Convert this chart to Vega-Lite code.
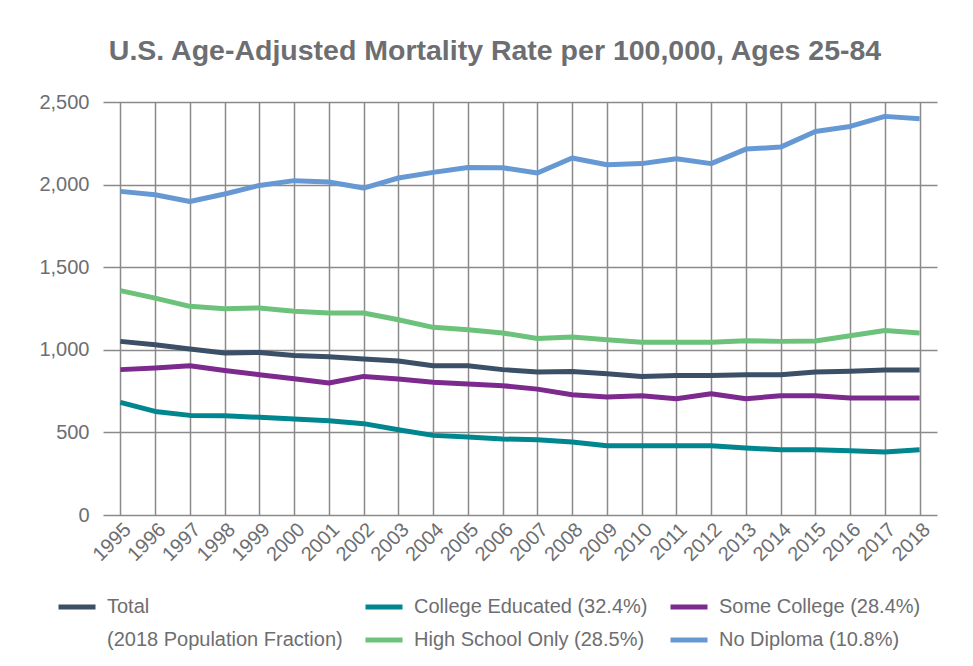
{
  "$schema": "https://vega.github.io/schema/vega-lite/v6.json",
  "autosize": "none",
  "width": 834,
  "height": 413,
  "padding": {"left": 103, "top": 102, "right": 36, "bottom": 151},
  "background": "white",
  "title": {
    "text": "U.S. Age-Adjusted Mortality Rate per 100,000, Ages 25-84",
    "anchor": "middle",
    "frame": "group",
    "dx": -25,
    "dy": 13,
    "offset": 40,
    "font": "Liberation Sans",
    "fontSize": 28.5,
    "fontWeight": "bold",
    "color": "#6d6e71"
  },
  "config": {
    "view": {"stroke": null},
    "axis": {
      "labelFont": "Liberation Sans",
      "labelFontSize": 20,
      "labelColor": "#6d6e71",
      "gridColor": "#8a8a8a",
      "gridWidth": 1.5,
      "gridOpacity": 1,
      "domain": false,
      "ticks": false
    },
    "legend": {
      "labelFont": "Liberation Sans",
      "labelFontSize": 20,
      "labelColor": "#6d6e71",
      "padding": 0
    }
  },
  "data": {
    "values": [
      {"year": 1995, "series": "Total", "rate": 1051},
      {"year": 1996, "series": "Total", "rate": 1031},
      {"year": 1997, "series": "Total", "rate": 1005},
      {"year": 1998, "series": "Total", "rate": 981},
      {"year": 1999, "series": "Total", "rate": 984},
      {"year": 2000, "series": "Total", "rate": 966},
      {"year": 2001, "series": "Total", "rate": 958},
      {"year": 2002, "series": "Total", "rate": 944},
      {"year": 2003, "series": "Total", "rate": 932},
      {"year": 2004, "series": "Total", "rate": 904},
      {"year": 2005, "series": "Total", "rate": 904},
      {"year": 2006, "series": "Total", "rate": 880},
      {"year": 2007, "series": "Total", "rate": 866},
      {"year": 2008, "series": "Total", "rate": 868},
      {"year": 2009, "series": "Total", "rate": 855},
      {"year": 2010, "series": "Total", "rate": 839},
      {"year": 2011, "series": "Total", "rate": 845},
      {"year": 2012, "series": "Total", "rate": 845},
      {"year": 2013, "series": "Total", "rate": 849},
      {"year": 2014, "series": "Total", "rate": 849},
      {"year": 2015, "series": "Total", "rate": 866},
      {"year": 2016, "series": "Total", "rate": 870},
      {"year": 2017, "series": "Total", "rate": 877},
      {"year": 2018, "series": "Total", "rate": 877},
      {"year": 1995, "series": "College Educated (32.4%)", "rate": 682},
      {"year": 1996, "series": "College Educated (32.4%)", "rate": 627},
      {"year": 1997, "series": "College Educated (32.4%)", "rate": 603},
      {"year": 1998, "series": "College Educated (32.4%)", "rate": 601},
      {"year": 1999, "series": "College Educated (32.4%)", "rate": 591},
      {"year": 2000, "series": "College Educated (32.4%)", "rate": 581},
      {"year": 2001, "series": "College Educated (32.4%)", "rate": 571},
      {"year": 2002, "series": "College Educated (32.4%)", "rate": 553},
      {"year": 2003, "series": "College Educated (32.4%)", "rate": 516},
      {"year": 2004, "series": "College Educated (32.4%)", "rate": 482},
      {"year": 2005, "series": "College Educated (32.4%)", "rate": 472},
      {"year": 2006, "series": "College Educated (32.4%)", "rate": 460},
      {"year": 2007, "series": "College Educated (32.4%)", "rate": 456},
      {"year": 2008, "series": "College Educated (32.4%)", "rate": 442},
      {"year": 2009, "series": "College Educated (32.4%)", "rate": 419},
      {"year": 2010, "series": "College Educated (32.4%)", "rate": 419},
      {"year": 2011, "series": "College Educated (32.4%)", "rate": 419},
      {"year": 2012, "series": "College Educated (32.4%)", "rate": 419},
      {"year": 2013, "series": "College Educated (32.4%)", "rate": 405},
      {"year": 2014, "series": "College Educated (32.4%)", "rate": 395},
      {"year": 2015, "series": "College Educated (32.4%)", "rate": 395},
      {"year": 2016, "series": "College Educated (32.4%)", "rate": 389},
      {"year": 2017, "series": "College Educated (32.4%)", "rate": 381},
      {"year": 2018, "series": "College Educated (32.4%)", "rate": 395},
      {"year": 1995, "series": "Some College (28.4%)", "rate": 880},
      {"year": 1996, "series": "Some College (28.4%)", "rate": 890},
      {"year": 1997, "series": "Some College (28.4%)", "rate": 904},
      {"year": 1998, "series": "Some College (28.4%)", "rate": 875},
      {"year": 1999, "series": "Some College (28.4%)", "rate": 849},
      {"year": 2000, "series": "Some College (28.4%)", "rate": 825},
      {"year": 2001, "series": "Some College (28.4%)", "rate": 799},
      {"year": 2002, "series": "Some College (28.4%)", "rate": 839},
      {"year": 2003, "series": "Some College (28.4%)", "rate": 823},
      {"year": 2004, "series": "Some College (28.4%)", "rate": 803},
      {"year": 2005, "series": "Some College (28.4%)", "rate": 793},
      {"year": 2006, "series": "Some College (28.4%)", "rate": 783},
      {"year": 2007, "series": "Some College (28.4%)", "rate": 762},
      {"year": 2008, "series": "Some College (28.4%)", "rate": 728},
      {"year": 2009, "series": "Some College (28.4%)", "rate": 714},
      {"year": 2010, "series": "Some College (28.4%)", "rate": 722},
      {"year": 2011, "series": "Some College (28.4%)", "rate": 704},
      {"year": 2012, "series": "Some College (28.4%)", "rate": 734},
      {"year": 2013, "series": "Some College (28.4%)", "rate": 704},
      {"year": 2014, "series": "Some College (28.4%)", "rate": 722},
      {"year": 2015, "series": "Some College (28.4%)", "rate": 722},
      {"year": 2016, "series": "Some College (28.4%)", "rate": 708},
      {"year": 2017, "series": "Some College (28.4%)", "rate": 708},
      {"year": 2018, "series": "Some College (28.4%)", "rate": 708},
      {"year": 1995, "series": "High School Only (28.5%)", "rate": 1358},
      {"year": 1996, "series": "High School Only (28.5%)", "rate": 1313},
      {"year": 1997, "series": "High School Only (28.5%)", "rate": 1263},
      {"year": 1998, "series": "High School Only (28.5%)", "rate": 1249},
      {"year": 1999, "series": "High School Only (28.5%)", "rate": 1253},
      {"year": 2000, "series": "High School Only (28.5%)", "rate": 1233},
      {"year": 2001, "series": "High School Only (28.5%)", "rate": 1223},
      {"year": 2002, "series": "High School Only (28.5%)", "rate": 1223},
      {"year": 2003, "series": "High School Only (28.5%)", "rate": 1182},
      {"year": 2004, "series": "High School Only (28.5%)", "rate": 1136},
      {"year": 2005, "series": "High School Only (28.5%)", "rate": 1122},
      {"year": 2006, "series": "High School Only (28.5%)", "rate": 1102},
      {"year": 2007, "series": "High School Only (28.5%)", "rate": 1068},
      {"year": 2008, "series": "High School Only (28.5%)", "rate": 1077},
      {"year": 2009, "series": "High School Only (28.5%)", "rate": 1061},
      {"year": 2010, "series": "High School Only (28.5%)", "rate": 1045},
      {"year": 2011, "series": "High School Only (28.5%)", "rate": 1045},
      {"year": 2012, "series": "High School Only (28.5%)", "rate": 1045},
      {"year": 2013, "series": "High School Only (28.5%)", "rate": 1055},
      {"year": 2014, "series": "High School Only (28.5%)", "rate": 1051},
      {"year": 2015, "series": "High School Only (28.5%)", "rate": 1053},
      {"year": 2016, "series": "High School Only (28.5%)", "rate": 1085},
      {"year": 2017, "series": "High School Only (28.5%)", "rate": 1117},
      {"year": 2018, "series": "High School Only (28.5%)", "rate": 1102},
      {"year": 1995, "series": "No Diploma (10.8%)", "rate": 1959},
      {"year": 1996, "series": "No Diploma (10.8%)", "rate": 1939},
      {"year": 1997, "series": "No Diploma (10.8%)", "rate": 1898},
      {"year": 1998, "series": "No Diploma (10.8%)", "rate": 1943},
      {"year": 1999, "series": "No Diploma (10.8%)", "rate": 1995},
      {"year": 2000, "series": "No Diploma (10.8%)", "rate": 2024},
      {"year": 2001, "series": "No Diploma (10.8%)", "rate": 2016},
      {"year": 2002, "series": "No Diploma (10.8%)", "rate": 1979},
      {"year": 2003, "series": "No Diploma (10.8%)", "rate": 2040},
      {"year": 2004, "series": "No Diploma (10.8%)", "rate": 2074},
      {"year": 2005, "series": "No Diploma (10.8%)", "rate": 2104},
      {"year": 2006, "series": "No Diploma (10.8%)", "rate": 2102},
      {"year": 2007, "series": "No Diploma (10.8%)", "rate": 2070},
      {"year": 2008, "series": "No Diploma (10.8%)", "rate": 2161},
      {"year": 2009, "series": "No Diploma (10.8%)", "rate": 2120},
      {"year": 2010, "series": "No Diploma (10.8%)", "rate": 2127},
      {"year": 2011, "series": "No Diploma (10.8%)", "rate": 2157},
      {"year": 2012, "series": "No Diploma (10.8%)", "rate": 2127},
      {"year": 2013, "series": "No Diploma (10.8%)", "rate": 2215},
      {"year": 2014, "series": "No Diploma (10.8%)", "rate": 2227},
      {"year": 2015, "series": "No Diploma (10.8%)", "rate": 2322},
      {"year": 2016, "series": "No Diploma (10.8%)", "rate": 2352},
      {"year": 2017, "series": "No Diploma (10.8%)", "rate": 2413},
      {"year": 2018, "series": "No Diploma (10.8%)", "rate": 2399}
    ]
  },
  "mark": {"type": "line", "strokeWidth": 5, "strokeJoin": "round"},
  "encoding": {
    "x": {
      "field": "year",
      "type": "quantitative",
      "scale": {"domain": [1994.5, 2018.5], "nice": false, "zero": false},
      "axis": {
        "title": null,
        "values": [1995, 1996, 1997, 1998, 1999, 2000, 2001, 2002, 2003, 2004, 2005, 2006, 2007, 2008, 2009, 2010, 2011, 2012, 2013, 2014, 2015, 2016, 2017, 2018],
        "format": "d",
        "labelAngle": -45,
        "labelAlign": "right",
        "labelBaseline": "top",
        "labelPadding": 4,
        "labelFontSize": 20,
        "labelOverlap": false,
        "labelFlush": false
      }
    },
    "y": {
      "field": "rate",
      "type": "quantitative",
      "scale": {"domain": [0, 2500], "nice": false},
      "axis": {
        "title": null,
        "values": [0, 500, 1000, 1500, 2000, 2500],
        "format": ",d",
        "labelPadding": 14
      }
    },
    "color": {
      "field": "series",
      "type": "nominal",
      "scale": {
        "domain": ["Total", "College Educated (32.4%)", "Some College (28.4%)", "(2018 Population Fraction)", "High School Only (28.5%)", "No Diploma (10.8%)"],
        "range": ["#3b4f66", "#00868f", "#7d2a8e", "#ffffff", "#6cc27a", "#6699d4"]
      },
      "legend": {
        "title": null,
        "orient": "none",
        "direction": "horizontal",
        "legendX": -47,
        "legendY": 484,
        "columns": 3,
        "symbolType": "stroke",
        "symbolSize": 1369,
        "symbolStrokeWidth": 5,
        "labelOffset": 9,
        "columnPadding": 12,
        "rowPadding": 2,
        "labelLimit": 400
      }
    }
  }
}
